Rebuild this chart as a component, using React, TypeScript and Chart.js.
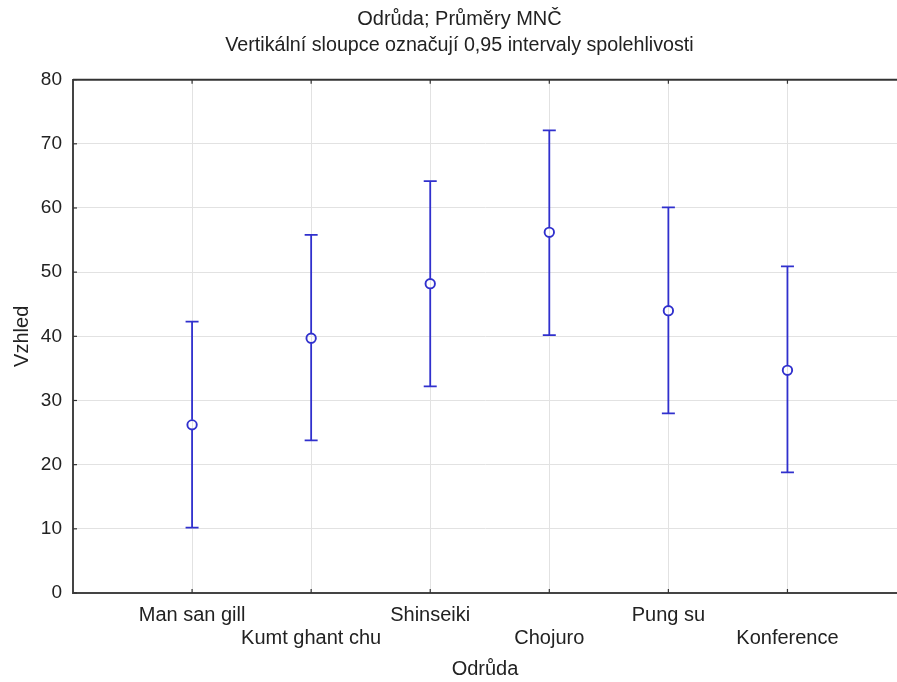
import React, { useEffect, useRef } from "react";
import { Chart, registerables } from "chart.js";

Chart.register(...registerables);

const categories = ["Man san gill", "Kumt ghant chu", "Shinseiki", "Chojuro", "Pung su", "Konference"];
const means = [26.2, 39.7, 48.2, 56.2, 44.0, 34.7];
const lowers = [10.2, 23.8, 32.2, 40.2, 28.0, 18.8];
const uppers = [42.3, 55.8, 64.2, 72.1, 60.1, 50.9];
const yTicks = [0, 10, 20, 30, 40, 50, 60, 70, 80];

const titleText = "Odrůda; Průměry MNČ";
const subtitleText = "Vertikální sloupce označují 0,95 intervaly spolehlivosti";
const xTitle = "Odrůda";
const yTitle = "Vzhled";

const FONT = "'Liberation Sans', Arial, sans-serif";
const BLUE = "rgb(48,48,205)";

const errorBarPlugin = {
  id: "errorBars",
  afterLayout(chart: any) {
    (chart.boxes || []).forEach((b: any) => {
      if (b && b.options && (b.options.text === titleText || b.options.text === subtitleText)) {
        b.left = 22;
        b.right = 897;
      }
    });
  },
  afterDatasetsDraw(chart: any) {
    const { ctx, scales, chartArea } = chart;
    const xs = scales.x;
    const ys = scales.y;
    ctx.save();
    ctx.strokeStyle = "#333";
    ctx.lineWidth = 2;
    ctx.beginPath();
    ctx.moveTo(chartArea.left, chartArea.top);
    ctx.lineTo(chartArea.right, chartArea.top);
    ctx.stroke();
    ctx.lineWidth = 1.2;
    categories.forEach((_, i) => {
      const x = xs.getPixelForValue(i + 1);
      ctx.beginPath();
      ctx.moveTo(x, chartArea.bottom);
      ctx.lineTo(x, chartArea.bottom - 4);
      ctx.moveTo(x, chartArea.top);
      ctx.lineTo(x, chartArea.top + 4);
      ctx.stroke();
    });
    yTicks.forEach((v) => {
      const y = ys.getPixelForValue(v);
      ctx.beginPath();
      ctx.moveTo(chartArea.left, y);
      ctx.lineTo(chartArea.left + 4, y);
      ctx.stroke();
    });
    ctx.strokeStyle = BLUE;
    ctx.lineWidth = 1.8;
    categories.forEach((_, i) => {
      const x = xs.getPixelForValue(i + 1);
      const yl = ys.getPixelForValue(lowers[i]);
      const yu = ys.getPixelForValue(uppers[i]);
      const ym = ys.getPixelForValue(means[i]);
      ctx.beginPath();
      ctx.moveTo(x, yu);
      ctx.lineTo(x, ym - 5);
      ctx.moveTo(x, ym + 5);
      ctx.lineTo(x, yl);
      ctx.moveTo(x - 6.5, yu);
      ctx.lineTo(x + 6.5, yu);
      ctx.moveTo(x - 6.5, yl);
      ctx.lineTo(x + 6.5, yl);
      ctx.stroke();
    });
    ctx.restore();
  },
};

export default function App() {
  const ref = useRef<HTMLCanvasElement>(null);
  useEffect(() => {
    if (!ref.current) return;
    const chart = new Chart(ref.current, {
      type: "scatter",
      data: {
        datasets: [
          {
            data: means.map((m, i) => ({ x: i + 1, y: m })),
            pointRadius: 4.7,
            pointBorderWidth: 1.9,
            pointBorderColor: BLUE,
            pointBackgroundColor: "rgba(0,0,0,0)",
            showLine: false,
            clip: false,
          },
        ],
      },
      options: {
        animation: false,
        responsive: false,
        layout: { autoPadding: false, padding: { left: 0, right: 0, top: 0, bottom: 0 } },
        plugins: {
          legend: { display: false },
          tooltip: { enabled: false },
          title: {
            display: true,
            text: titleText,
            color: "#222",
            font: { family: FONT, size: 20, weight: "normal", lineHeight: 1.2 },
            padding: { top: 7, bottom: 3 },
          },
          subtitle: {
            display: true,
            text: subtitleText,
            color: "#222",
            font: { family: FONT, size: 19.7, weight: "normal", lineHeight: 1.2 },
            padding: { top: 0, bottom: 22 },
          },
        },
        scales: {
          x: {
            type: "linear",
            min: 0,
            max: 6.92,
            afterBuildTicks: (scale: any) => {
              scale.ticks = categories.map((_, i) => ({ value: i + 1 }));
            },
            afterFit: (scale: any) => {
              scale.height = 89;
              scale.paddingRight = 0;
              scale.paddingLeft = 0;
            },
            grid: { color: "#e2e2e2", lineWidth: 1, drawTicks: false },
            border: { color: "#444", width: 2 },
            ticks: {
              autoSkip: false,
              maxRotation: 0,
              padding: 11,
              color: "#222",
              font: { family: FONT, size: 20, lineHeight: 1.15 },
              callback: (v: any) => {
                const i = Math.round(Number(v)) - 1;
                const lab = categories[i];
                if (lab === undefined) return "";
                return i % 2 === 1 ? ["", lab] : lab;
              },
            },
            title: {
              display: true,
              text: xTitle,
              color: "#222",
              font: { family: FONT, size: 20 },
              padding: { top: 0, bottom: 1 },
            },
          },
          y: {
            min: 0,
            max: 80,
            afterBuildTicks: (scale: any) => {
              scale.ticks = yTicks.map((v) => ({ value: v }));
            },
            afterFit: (scale: any) => {
              scale.width = 73;
            },
            grid: { color: "#e2e2e2", lineWidth: 1, drawTicks: false },
            border: { color: "#444", width: 2 },
            ticks: {
              padding: 11,
              color: "#222",
              font: { family: FONT, size: 19 },
            },
            title: {
              display: true,
              text: yTitle,
              color: "#222",
              font: { family: FONT, size: 20 },
              padding: { top: 10, bottom: 0 },
            },
          },
        },
      },
      plugins: [errorBarPlugin],
    } as any);
    return () => chart.destroy();
  }, []);
  return (
    <div style={{ position: "absolute", left: 0, top: 0, width: 897, height: 682, background: "#fff" }}>
      <canvas ref={ref} width={897} height={682} style={{ display: "block" }} />
    </div>
  );
}
